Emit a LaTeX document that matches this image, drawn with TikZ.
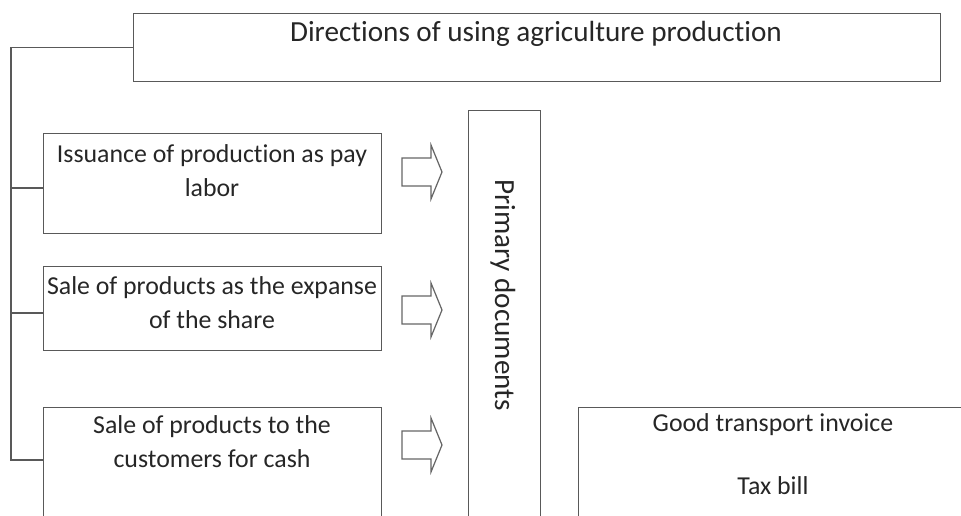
\documentclass[tikz,border=0pt]{standalone}
\usepackage{fontspec}
\setmainfont{Carlito}[Ligatures={NoCommon}]
\usetikzlibrary{calc}

\begin{document}
\begin{tikzpicture}[x=0.02cm, y=-0.02cm,
	every node/.style={font=\fontsize{14.7}{19.5}\selectfont, text=black!85},
	big/.style={font=\fontsize{16.6}{19.5}\selectfont},
	box/.style={draw=black!65, line width=0.8pt, inner sep=0pt},
	tree/.style={draw=black!65, line width=0.8pt},
	blockarrow/.style={draw=black!60, line width=0.7pt, line join=miter}]
	\useasboundingbox (0,0) rectangle (961,516);
	\clip (0,0) rectangle (961,516);
	% boxes
	\node[box, anchor=north west, minimum width=16.14cm, minimum height=1.36cm] (dir) at (133,13) {};
	\node[big] (dirtext) at (536,34) {Directions of using agriculture production};
	\node[box, anchor=north west, minimum width=6.76cm, minimum height=2cm] (pay) at (43,133) {};
	\node[align=center] (paytext) at (212,171) {Issuance of production as pay\\labor};
	\node[box, anchor=north west, minimum width=6.76cm, minimum height=1.68cm] (share) at (43,266) {};
	\node[align=center] (sharetext) at (212,303) {Sale of products as the expanse\\of the share};
	\node[box, anchor=north west, minimum width=6.76cm, minimum height=3cm] (cash) at (43,407) {};
	\node[align=center] (cashtext) at (212,442) {Sale of products to the\\customers for cash};
	\node[box, anchor=north west, minimum width=1.44cm, minimum height=9cm] (prim) at (468,110) {};
	\node[big, rotate=-90] (primtext) at (503,295) {Primary documents};
	\node[box, anchor=north west, minimum width=8cm, minimum height=3cm] (docs) at (578,407) {};
	\node (invoice) at (773,425) {Good transport invoice};
	\node (taxbill) at (773,486) {Tax bill};
	% tree on the left
	\coordinate (jpay) at ($(pay.north west)+(0,55)$);
	\coordinate (jshare) at ($(share.north west)+(0,47)$);
	\coordinate (jcash) at ($(cash.north west)+(0,53)$);
	\coordinate (spine) at (11,0);
	\draw[tree] (dir.west) -| (spine |- jcash) -- (jcash);
	\foreach \j in {jpay,jshare}
		\draw[tree] (spine |- \j) -- (\j);
	% block arrows
	\foreach \y in {172,310,445}
		\draw[blockarrow] (402,\y-14) -- ++(29,0) -- ++(0,-13) -- (442,\y) -- (431,\y+27) -- ++(0,-13) -- (402,\y+14) -- cycle;
\end{tikzpicture}
\end{document}
